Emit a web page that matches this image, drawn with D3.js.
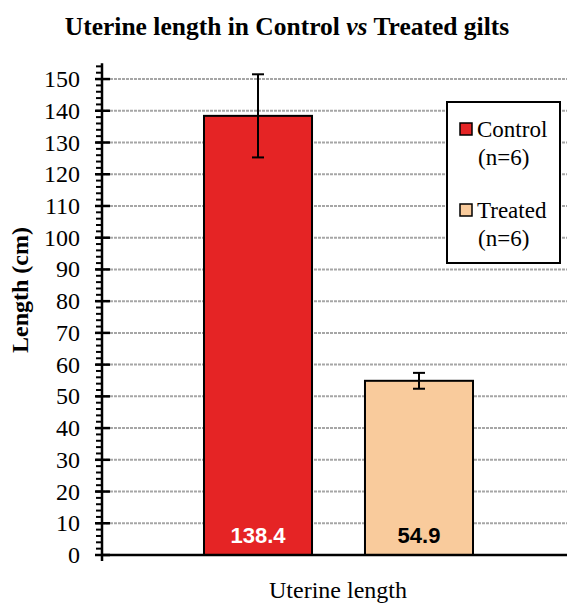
<!DOCTYPE html>
<html><head><meta charset="utf-8">
<script src="https://cdn.jsdelivr.net/npm/d3@7"></script>
<style>body{margin:0;background:#fff}svg{display:block}</style>
</head><body>
<script>
const categories = ["Control", "Treated"];
const values = [138.4, 54.9];
const errors = [13.1, 2.5];
const legendLabels = ["Control", "Treated"];
const legendSub = ["(n=6)", "(n=6)"];
const colors = ["#e52425", "#f9cb9c"];
const labelColors = ["#ffffff", "#000000"];
const yTicks = d3.range(0, 151, 10);
const yMinor = d3.range(0, 155, 2);

const SERIF = "'Liberation Serif', 'Times New Roman', Times, serif";
const SANS = "'Liberation Sans', Arial, sans-serif";
const W = 567, H = 604;
const svg = d3.select("body").append("svg").attr("width", W).attr("height", H);
const x0 = 102, y0 = 555;
const y = d3.scaleLinear().domain([0, 155]).range([y0, y0 - 155 * 3.173]);
const x = d3.scaleBand().domain(categories).range([123.5, 553.5]).paddingInner(0.329).paddingOuter(0.5);

// title
svg.append("text").attr("x", 287).attr("y", 35).attr("text-anchor", "middle")
  .attr("font-family", SERIF).attr("font-weight", "bold").attr("font-size", 25.5)
  .call(t => { t.append("tspan").text("Uterine length in Control ");
               t.append("tspan").attr("font-style", "italic").text("vs");
               t.append("tspan").text(" Treated gilts"); });

// gridlines
svg.append("g").selectAll("line").data(yTicks.filter(d => d > 0)).join("line")
  .attr("x1", x0).attr("x2", W).attr("y1", d => y(d)).attr("y2", d => y(d))
  .attr("stroke", "#a6a6a6").attr("stroke-width", 2).attr("stroke-dasharray", "3,1");

// bars
svg.append("g").selectAll("rect").data(values).join("rect")
  .attr("x", (d, i) => x(categories[i])).attr("width", x.bandwidth())
  .attr("y", d => y(d)).attr("height", d => y0 - y(d))
  .attr("fill", (d, i) => colors[i]).attr("stroke", "#000").attr("stroke-width", 2);

// error bars
const eb = svg.append("g").attr("stroke", "#000").attr("stroke-width", 2);
values.forEach((v, i) => {
  const cx = x(categories[i]) + x.bandwidth() / 2;
  eb.append("line").attr("x1", cx).attr("x2", cx).attr("y1", y(v + errors[i])).attr("y2", y(v - errors[i]));
  eb.append("line").attr("x1", cx - 6).attr("x2", cx + 6).attr("y1", y(v + errors[i])).attr("y2", y(v + errors[i]));
  eb.append("line").attr("x1", cx - 6).attr("x2", cx + 6).attr("y1", y(v - errors[i])).attr("y2", y(v - errors[i]));
});

// value labels
svg.append("g").selectAll("text").data(values).join("text")
  .attr("x", (d, i) => x(categories[i]) + x.bandwidth() / 2).attr("y", 543)
  .attr("text-anchor", "middle").attr("font-family", SANS).attr("font-weight", "bold")
  .attr("font-size", 22).attr("fill", (d, i) => labelColors[i]).text(d => d.toFixed(1));

// y axis
const ax = svg.append("g");
ax.append("line").attr("x1", x0).attr("x2", x0).attr("y1", y(155)).attr("y2", y0 + 6).attr("stroke", "#000").attr("stroke-width", 2.5);
ax.selectAll(".mn").data(yMinor).join("line").attr("class", "mn")
  .attr("x1", x0 - 6).attr("x2", x0).attr("y1", d => y(d)).attr("y2", d => y(d))
  .attr("stroke", "#000").attr("stroke-width", 2);
ax.selectAll(".mj").data(yTicks).join("line").attr("class", "mj")
  .attr("x1", x0 - 7).attr("x2", x0 + 8).attr("y1", d => y(d)).attr("y2", d => y(d))
  .attr("stroke", "#000").attr("stroke-width", 2.5);
ax.selectAll("text").data(yTicks).join("text")
  .attr("x", 80).attr("y", d => y(d) + 8).attr("text-anchor", "end")
  .attr("font-family", SERIF).attr("font-size", 24).text(d => d);
// x axis
svg.append("line").attr("x1", x0).attr("x2", W).attr("y1", y0).attr("y2", y0).attr("stroke", "#000").attr("stroke-width", 2.5);

// axis titles
svg.append("text").attr("transform", "translate(28,290) rotate(-90)").attr("text-anchor", "middle")
  .attr("font-family", SERIF).attr("font-weight", "bold").attr("font-size", 24).text("Length (cm)");
svg.append("text").attr("x", 338).attr("y", 598).attr("text-anchor", "middle")
  .attr("font-family", SERIF).attr("font-size", 24).text("Uterine length");

// legend
const lg = svg.append("g");
lg.append("rect").attr("x", 447).attr("y", 102).attr("width", 113).attr("height", 161)
  .attr("fill", "#fff").attr("stroke", "#000").attr("stroke-width", 2);
const ly = [137, 218];
legendLabels.forEach((l, i) => {
  lg.append("rect").attr("x", 460).attr("y", ly[i] - 14).attr("width", 12).attr("height", 12)
    .attr("fill", colors[i]).attr("stroke", "#000").attr("stroke-width", 1.5);
  lg.append("text").attr("x", 477).attr("y", ly[i]).attr("font-family", SERIF).attr("font-size", 23).text(l);
  lg.append("text").attr("x", 478).attr("y", ly[i] + 28).attr("font-family", SERIF).attr("font-size", 23).text(legendSub[i]);
});
</script>
</body></html>
